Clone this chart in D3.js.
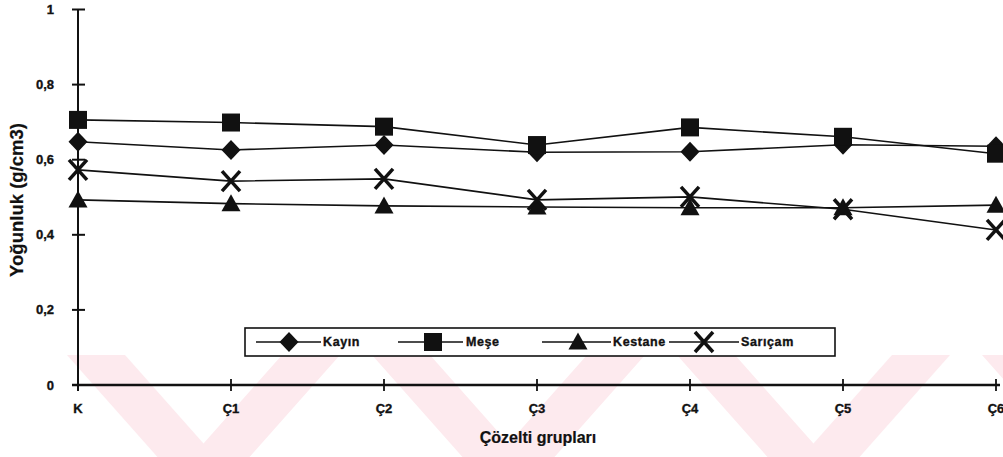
<!DOCTYPE html>
<html>
<head>
<meta charset="utf-8">
<script src="https://cdn.jsdelivr.net/npm/d3@7"></script>
<style>
  html, body { margin: 0; padding: 0; background: #fff; }
  svg { display: block; }
  text { font-family: 'Liberation Sans Narrow', 'Liberation Sans', Arial, sans-serif; font-weight: bold; fill: #111; stroke: #111; stroke-width: 0.35px; }
  text.title { font-family: 'Liberation Sans', Arial, sans-serif; stroke-width: 0.2px; }
</style>
</head>
<body>
<svg id="chart" width="1003" height="457"></svg>
<script>
// Density (g/cm3) of four wood species across solution groups
const categories = ["K", "Ç1", "Ç2", "Ç3", "Ç4", "Ç5", "Ç6"];
const kayin   = [0.648, 0.626, 0.639, 0.620, 0.621, 0.640, 0.636];
const mese    = [0.706, 0.699, 0.688, 0.639, 0.686, 0.661, 0.616];
const kestane = [0.493, 0.483, 0.477, 0.474, 0.472, 0.472, 0.479];
const saricam = [0.573, 0.543, 0.549, 0.493, 0.501, 0.468, 0.413];
const yTicks  = [0, 0.2, 0.4, 0.6, 0.8, 1];

const series = [
  { name: "Kayın",   values: kayin,   symbol: "diamond" },
  { name: "Meşe",    values: mese,    symbol: "square" },
  { name: "Kestane", values: kestane, symbol: "triangle" },
  { name: "Sarıçam", values: saricam, symbol: "cross" }
];

const svg = d3.select("#chart");

// faint diagonal background bands
const bg = svg.append("g").attr("fill", "#fdeaee");
for (let k = 0; k < 4; k++) {
  const x0 = 67 + k * 305;
  bg.append("polygon").attr("points",
    [[x0, 355], [x0 + 58, 355], [x0 + 160, 470], [x0 + 102, 470]].map(p => p.join(",")).join(" "));
  bg.append("polygon").attr("points",
    [[x0 + 215, 355], [x0 + 273, 355], [x0 + 171, 470], [x0 + 113, 470]].map(p => p.join(",")).join(" "));
}

const x = d3.scalePoint().domain(categories).range([78, 996]);
const y = d3.scaleLinear().domain([0, 1]).range([385, 9.5]);

// axes
const axes = svg.append("g").attr("stroke", "#111").attr("fill", "none");
axes.append("line").attr("x1", 78).attr("x2", 78).attr("y1", y(1)).attr("y2", y(0) + 6).attr("stroke-width", 2);
axes.append("line").attr("x1", 72).attr("x2", 1000).attr("y1", y(0)).attr("y2", y(0)).attr("stroke-width", 2.5);
axes.selectAll(".yt").data(yTicks).join("line")
  .attr("x1", 72).attr("x2", 85).attr("y1", d => y(d)).attr("y2", d => y(d)).attr("stroke-width", 2);
axes.selectAll(".xt").data(categories).join("line")
  .attr("x1", d => x(d)).attr("x2", d => x(d)).attr("y1", y(0) - 6).attr("y2", y(0) + 6).attr("stroke-width", 1.8);

const fmt = d => d === 0 ? "0" : d === 1 ? "1" : d3.format(".1f")(d).replace(".", ",");
svg.selectAll(".ylab").data(yTicks).join("text")
  .attr("x", 54).attr("y", d => y(d)).attr("dy", "0.35em")
  .attr("text-anchor", "end").attr("font-size", 13).text(fmt);

svg.selectAll(".xlab").data(categories).join("text")
  .attr("x", d => x(d)).attr("y", 408).attr("dy", "0.35em")
  .attr("text-anchor", "middle").attr("font-size", 13).text(d => d);

svg.append("text").attr("class", "title").attr("x", 538).attr("y", 437).attr("dy", "0.35em")
  .attr("text-anchor", "middle").attr("font-size", 16).text("Çözelti grupları");

svg.append("text").attr("class", "title").attr("transform", "translate(17,200) rotate(-90)").attr("dy", "0.35em")
  .attr("text-anchor", "middle").attr("font-size", 18.5).text("Yoğunluk (g/cm3)");

// marker drawing
function drawSymbol(g, type, cx, cy) {
  if (type === "diamond") {
    g.append("path").attr("d", `M${cx},${cy - 10}L${cx + 9.5},${cy}L${cx},${cy + 10}L${cx - 9.5},${cy}Z`).attr("fill", "#111");
  } else if (type === "square") {
    g.append("rect").attr("x", cx - 9).attr("y", cy - 9).attr("width", 18).attr("height", 18).attr("fill", "#111");
  } else if (type === "triangle") {
    g.append("path").attr("d", `M${cx},${cy - 9.5}L${cx + 9.5},${cy + 7.5}L${cx - 9.5},${cy + 7.5}Z`).attr("fill", "#111");
  } else {
    g.append("path").attr("d", `M${cx - 9},${cy - 10}L${cx + 9},${cy + 10}M${cx + 9},${cy - 10}L${cx - 9},${cy + 10}`)
      .attr("stroke", "#111").attr("stroke-width", 3.5).attr("fill", "none");
  }
}

const line = d3.line().x((d, i) => x(categories[i])).y(d => y(d));
series.forEach(s => {
  svg.append("path").datum(s.values).attr("d", line)
    .attr("fill", "none").attr("stroke", "#111").attr("stroke-width", 1.6);
});
series.forEach(s => {
  const g = svg.append("g");
  s.values.forEach((v, i) => drawSymbol(g, s.symbol, x(categories[i]), y(v)));
});

// legend
const lg = svg.append("g");
lg.append("rect").attr("x", 245).attr("y", 328).attr("width", 590).attr("height", 28)
  .attr("fill", "#fff").attr("stroke", "#111").attr("stroke-width", 1.6);
const legendPos = [
  { lx1: 256, lx2: 321, mx: 289, tx: 323 },
  { lx1: 398, lx2: 463, mx: 433, tx: 466 },
  { lx1: 542, lx2: 611, mx: 578, tx: 613 },
  { lx1: 669, lx2: 739, mx: 704, tx: 741 }
];
series.forEach((s, i) => {
  const p = legendPos[i];
  lg.append("line").attr("x1", p.lx1).attr("x2", p.lx2).attr("y1", 342).attr("y2", 342)
    .attr("stroke", "#111").attr("stroke-width", 1.6);
  drawSymbol(lg, s.symbol, p.mx, 342);
  lg.append("text").attr("x", p.tx).attr("y", 342).attr("dy", "0.35em")
    .attr("font-size", 12.5).attr("letter-spacing", 0.6).text(s.name);
});
</script>
</body>
</html>
